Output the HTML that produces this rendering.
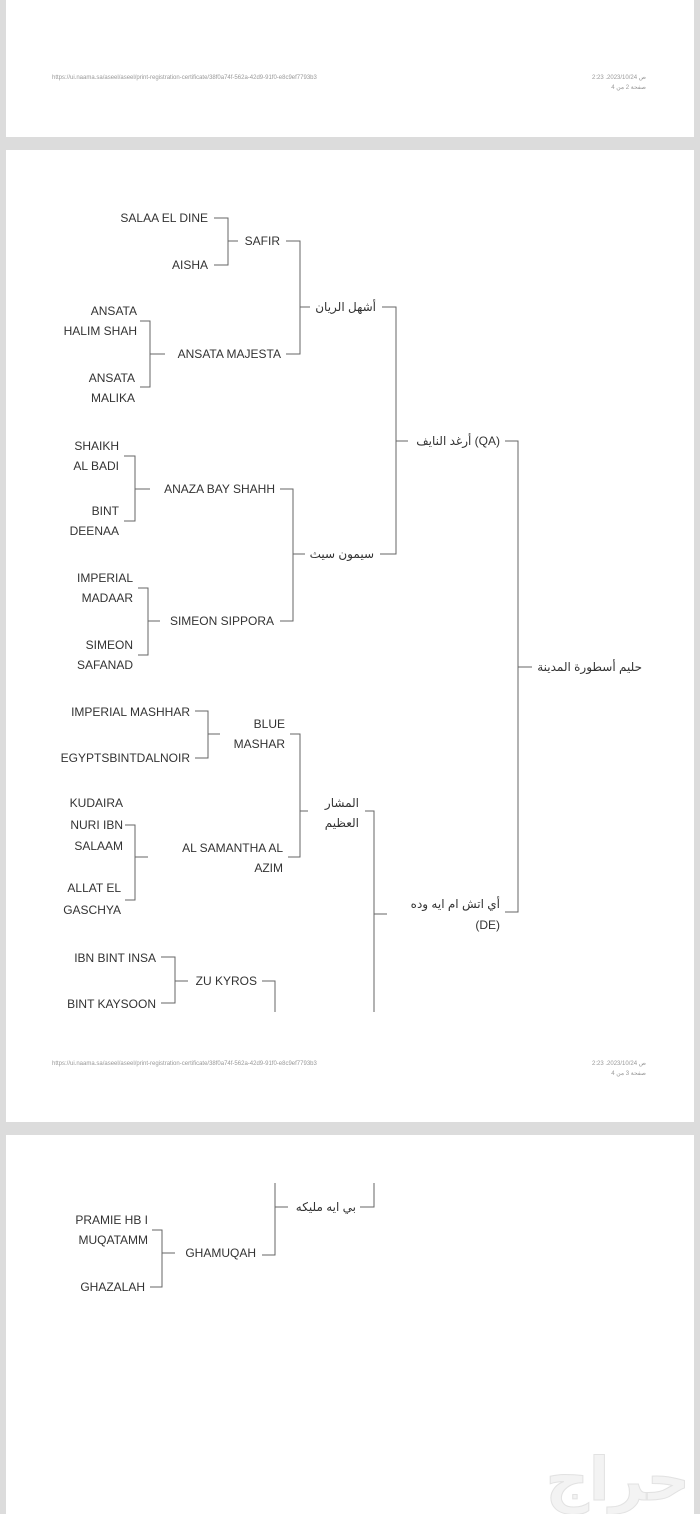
<!DOCTYPE html>
<html><head><meta charset="utf-8"><style>
html,body{margin:0;padding:0;background:#dcdcdc;width:700px;height:1514px;overflow:hidden}
svg{position:absolute;left:0;top:0}
</style></head><body>
<svg width="700" height="1514" xmlns="http://www.w3.org/2000/svg">
<rect x="0" y="0" width="700" height="1514" fill="#dcdcdc"/>
<rect x="6" y="0" width="688" height="137" fill="#fff"/>
<rect x="6" y="150" width="688" height="972" fill="#fff"/>
<rect x="6" y="1135" width="688" height="379" fill="#fff"/>
<g font-family="Liberation Sans, sans-serif" font-size="6" fill="#999">
<text x="52" y="79">https://ui.naama.sa/aseel/aseel/print-registration-certificate/38f0a74f-562a-42d9-91f0-e8c9ef7793b3</text>
<text x="646" y="79" text-anchor="end">2:23 .2023/10/24 ص</text>
<text x="646" y="89" text-anchor="end">صفحة 2 من 4</text>
<text x="52" y="1065">https://ui.naama.sa/aseel/aseel/print-registration-certificate/38f0a74f-562a-42d9-91f0-e8c9ef7793b3</text>
<text x="646" y="1065" text-anchor="end">2:23 .2023/10/24 ص</text>
<text x="646" y="1075" text-anchor="end">صفحة 3 من 4</text>
</g>
<g stroke="#666" stroke-width="1" fill="none">
<path d="M214 218H228V265H214M228 241H238M286 241H300V354H286M300 307H310M382 307H396V554H380M396 441H408M505 441H518V912H505M518 667H532"/>
<path d="M140 321H150V387H140M150 354H165"/>
<path d="M124 456H135V521H124M135 489H150M280 489H293V621H280M293 554H305"/>
<path d="M138 588H148V655H138M148 621H160"/>
<path d="M195 711H208V758H195M208 734H220M290 734H300V857H288M300 811H308M365 811H374V1012M374 914H387"/>
<path d="M125 825H135V900H125M135 857H148"/>
<path d="M161 957H175V1003H161M175 981H188M262 981H275V1012"/>
<path d="M275 1183V1255H262M275 1207H288M360 1207H374V1183"/>
<path d="M152 1230H162V1287H150M162 1253H175"/>
</g>
<g font-family="Liberation Sans, 'DejaVu Sans', sans-serif" font-size="12" fill="#333" text-anchor="end">
<text x="208" y="222">SALAA EL DINE</text>
<text x="208" y="269">AISHA</text>
<text x="280" y="245">SAFIR</text>
<text x="376" y="311">أشهل الريان</text>
<text x="137" y="315">ANSATA</text>
<text x="137" y="335">HALIM SHAH</text>
<text x="135" y="382">ANSATA</text>
<text x="135" y="402">MALIKA</text>
<text x="281" y="358">ANSATA MAJESTA</text>
<text x="500" y="445">أرغد النايف (QA)</text>
<text x="642" y="671">حليم أسطورة المدينة</text>
<text x="119" y="450">SHAIKH</text>
<text x="119" y="470">AL BADI</text>
<text x="119" y="515">BINT</text>
<text x="119" y="535">DEENAA</text>
<text x="275" y="493">ANAZA BAY SHAHH</text>
<text x="374" y="558">سيمون سيث</text>
<text x="133" y="582">IMPERIAL</text>
<text x="133" y="602">MADAAR</text>
<text x="133" y="649">SIMEON</text>
<text x="133" y="669">SAFANAD</text>
<text x="274" y="625">SIMEON SIPPORA</text>
<text x="190" y="716">IMPERIAL MASHHAR</text>
<text x="190" y="762">EGYPTSBINTDALNOIR</text>
<text x="285" y="728">BLUE</text>
<text x="285" y="748">MASHAR</text>
<text x="359" y="807">المشار</text>
<text x="359" y="827">العظيم</text>
<text x="123" y="807">KUDAIRA</text>
<text x="123" y="829">NURI IBN</text>
<text x="123" y="850">SALAAM</text>
<text x="121" y="892">ALLAT EL</text>
<text x="121" y="914">GASCHYA</text>
<text x="283" y="852">AL SAMANTHA AL</text>
<text x="283" y="872">AZIM</text>
<text x="500" y="908">أي اتش ام ايه وده</text>
<text x="500" y="929">(DE)</text>
<text x="156" y="962">IBN BINT INSA</text>
<text x="156" y="1008">BINT KAYSOON</text>
<text x="257" y="985">ZU KYROS</text>
<text x="356" y="1211">بي ايه مليكه</text>
<text x="256" y="1257">GHAMUQAH</text>
<text x="148" y="1224">PRAMIE HB I</text>
<text x="148" y="1244">MUQATAMM</text>
<text x="145" y="1291">GHAZALAH</text>
</g>
<text x="690" y="1500" text-anchor="end" font-family="'DejaVu Sans', sans-serif" font-size="60" font-weight="bold" fill="#f3f3f3" stroke="#e2e2e2" stroke-width="1">حراج</text>
</svg>
</body></html>
